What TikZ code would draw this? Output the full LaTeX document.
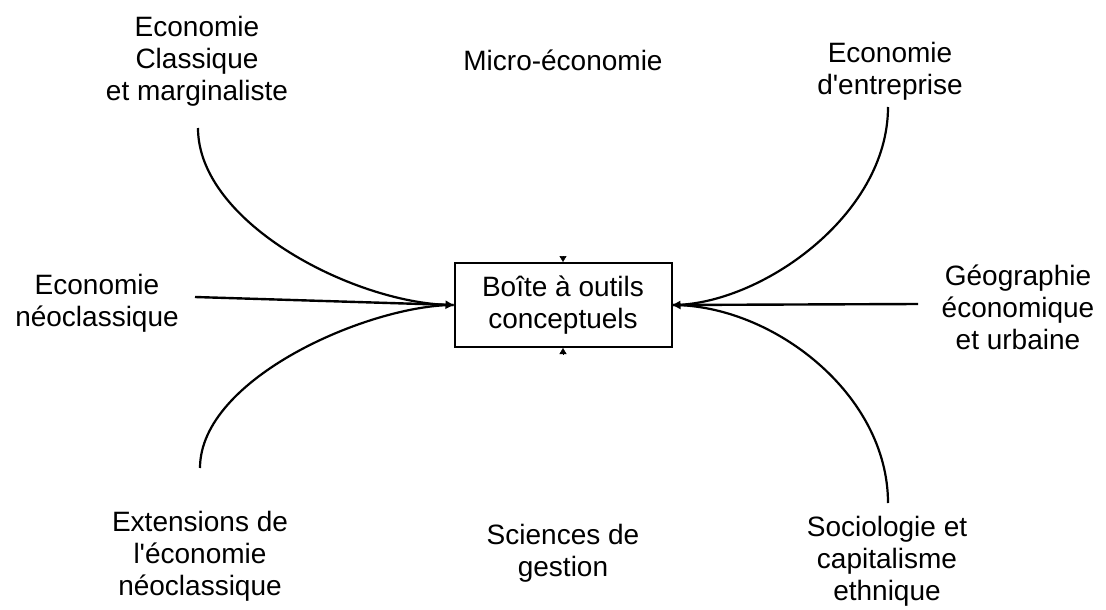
\documentclass[tikz,border=0pt]{standalone}
\usepackage{fontspec}
\setmainfont{Liberation Sans}
\usetikzlibrary{arrows.meta}
\begin{document}
\begin{tikzpicture}[x=1pt,y=-1pt,
  lbl/.style={align=center,inner sep=0pt,font=\fontsize{28}{32}\selectfont},
  conn/.style={line width=2.2pt},
  tipped/.style={line width=2.4pt,-{Triangle[length=8pt,width=8pt]}},
  smalltip/.style={line width=0.5pt,-{Triangle[length=6pt,width=7pt]}}]
\useasboundingbox (0,0) rectangle (1106,610);
\node[draw,line width=2pt,minimum width=217pt,minimum height=84pt,inner sep=0pt,
  font=\fontsize{28}{32}\selectfont,align=center] (box) at (563,305) {Boîte à outils\\conceptuels};
\node[lbl] (ecl) at (197,61) {Economie\\Classique\\et marginaliste};
\node[lbl] (mic) at (563,60) {Micro-économie};
\node[lbl] (ent) at (890,71) {Economie\\d\textquotesingle entreprise};
\node[lbl] (neo) at (97,303) {Economie\\néoclassique};
\node[lbl] (geo) at (1018,307) {Géographie\\économique\\et urbaine};
\node[lbl] (ext) at (200,556) {Extensions de\\l\textquotesingle économie\\néoclassique};
\node[lbl] (sci) at (563,553) {Sciences de\\gestion};
\node[lbl] (soc) at (887,561) {Sociologie et\\capitalisme\\ethnique};
\coordinate (cTL) at (198,128);
\coordinate (cBL) at (200,468);
\coordinate (cTR) at (888,107);
\coordinate (cBR) at (888,503);
\coordinate (sL) at (195,297);
\coordinate (sR) at (918,304);
\coordinate (mT) at (563,256);
\coordinate (mB) at (563,354);
\draw[conn] (cTL) .. controls +(0,96) and +(-96,0) .. (box.west);
\draw[conn] (cBL) .. controls +(0,-90) and +(-84,0) .. (box.west);
\draw[conn] (cTR) .. controls +(0,109) and +(87,0) .. (box.east);
\draw[conn] (cBR) .. controls +(0,-109) and +(100,0) .. (box.east);
\draw[tipped] (sL) -- (box.west);
\draw[tipped] (sR) -- (box.east);
\draw[smalltip] (mT) -- (box.north);
\draw[smalltip] (mB) -- (box.south);
\end{tikzpicture}
\end{document}
